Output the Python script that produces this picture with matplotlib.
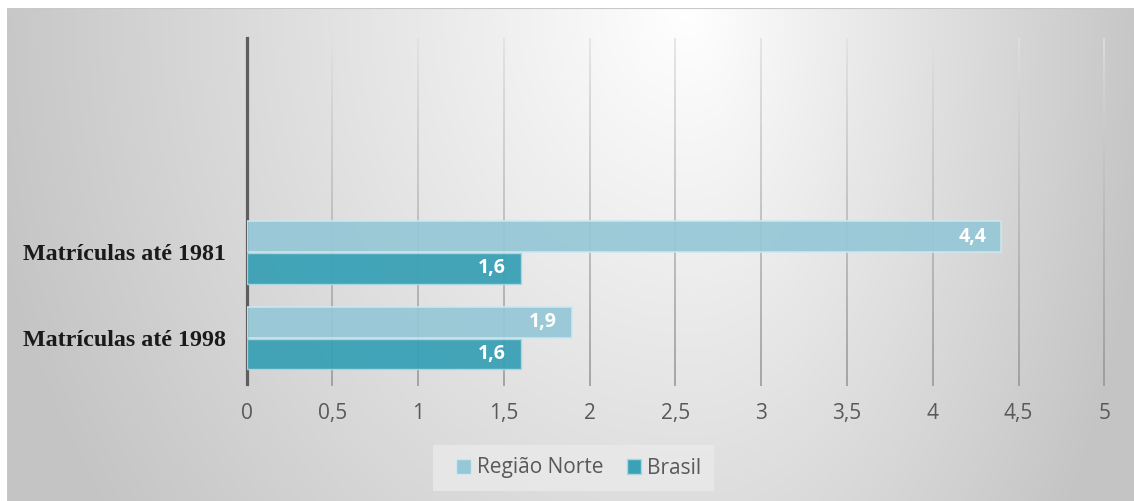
import numpy as np
import matplotlib
matplotlib.use("Agg")
import matplotlib.pyplot as plt
from matplotlib.collections import LineCollection
from matplotlib.patches import Patch, Rectangle

categories = ["Matrículas até 1998", "Matrículas até 1981"]
series_names = ["Região Norte", "Brasil"]
regiao_norte = [1.9, 4.4]
brasil = [1.6, 1.6]
x_ticks = [0, 0.5, 1, 1.5, 2, 2.5, 3, 3.5, 4, 4.5, 5]
x_labels = ["0", "0,5", "1", "1,5", "2", "2,5", "3", "3,5", "4", "4,5", "5"]

light = "#96c7d6"
dark = "#3aa1b6"
W, H = 1134, 501

fig = plt.figure(figsize=(W / 100, H / 100), dpi=100)
fig.patch.set_facecolor("white")

# background panel with soft radial shading
bg = fig.add_axes([7 / W, 0, (W - 7) / W, (H - 8) / H], zorder=-10)
yy, xx = np.mgrid[0:H - 8, 7:W]
cx = 690
sx = np.where(xx < cx, cx, W - cx)
r = np.sqrt(((xx - cx) / sx) ** 2 + (yy / 830) ** 2)
g = 1 - 0.22 * np.clip(r, 0, 1.05)
bg.imshow(np.dstack([g, g, g]), aspect="auto", extent=[0, 1, 0, 1], interpolation="bilinear")
bg.set_xlim(0, 1)
bg.set_ylim(0, 1)
bg.axis("off")
bg.plot([0, 0, 1], [0, 1, 1], transform=bg.transAxes, color="#c8c8c8", linewidth=1.5)

ax = fig.add_axes([246.5 / W, 120 / H, 857.8 / W, 343 / H])
ax.set_facecolor("none")
ax.set_xlim(0, 5)
ax.set_ylim(-0.5, 3.5)

y = np.arange(len(categories))
h = 0.36
b1 = ax.barh(y + h / 2 + 0.005, regiao_norte, height=h, color=light, alpha=0.92,
             edgecolor="#cfe7ef", linewidth=1.2, zorder=3, label=series_names[0])
b2 = ax.barh(y - h / 2 - 0.005, brasil, height=h, color=dark, alpha=0.95,
             edgecolor="#a9d8e2", linewidth=1.0, zorder=3, label=series_names[1])

for bars in (b1, b2):
    for rect in bars:
        v = rect.get_width()
        ax.annotate(f"{v:.1f}".replace(".", ","), (v, rect.get_y() + rect.get_height() / 2),
                    xytext=(-11, 0), textcoords="offset points", ha="right", va="center",
                    color="white", fontsize=14, fontweight="bold", family="Open Sans", zorder=5)

# gridlines fading from light at the top to darker at the bottom
n = 40
ys = np.linspace(3.5, -0.56, n + 1)
segs, cols = [], []
for xv in x_ticks[1:]:
    for i in range(n):
        segs.append([(xv, ys[i]), (xv, ys[i + 1])])
        c = 0.88 - 0.3 * (i / (n - 1)) ** 0.9
        cols.append((c, c, c))
ax.add_collection(LineCollection(segs, colors=cols, linewidths=1.1, zorder=1, clip_on=False))

for s in ["top", "right", "bottom"]:
    ax.spines[s].set_visible(False)
ax.spines["left"].set_color("#5e5e5e")
ax.spines["left"].set_linewidth(2.3)
ax.spines["left"].set_bounds(-0.53, 3.5)

ax.set_xticks(x_ticks)
ax.set_xticklabels(x_labels, family="Open Sans", fontsize=15, color="#595959")
ax.tick_params(axis="x", length=0, pad=16)
ax.set_yticks(y)
ax.set_yticklabels(categories, family="Liberation Serif", fontweight="bold",
                   fontsize=17.3, color="#1a1a1a")
ax.tick_params(axis="y", length=0, pad=15)

# legend
fig.patches.append(Rectangle((433 / W, 10 / H), 281 / W, 46 / H, transform=fig.transFigure,
                             facecolor="#eaeaea", edgecolor="none", alpha=0.8, zorder=1))
handles = [Patch(facecolor=light, edgecolor="#cfe7ef"), Patch(facecolor=dark, edgecolor="#a9d8e2")]
fig.legend(handles, series_names, loc="center", bbox_to_anchor=(579 / W, 33 / H), ncol=2,
           frameon=False, prop={"family": "Open Sans", "size": 15}, labelcolor="#595959",
           handlelength=0.7, handleheight=0.7, handletextpad=0.3, columnspacing=1.1)

fig.savefig("out.png", dpi=100)
